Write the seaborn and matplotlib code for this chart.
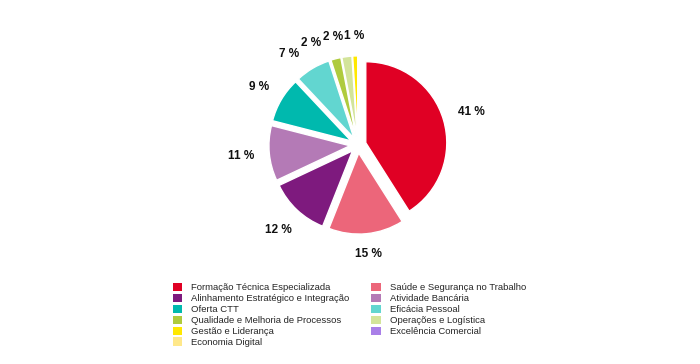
import matplotlib
matplotlib.use("Agg")
import matplotlib.pyplot as plt
import seaborn as sns
import numpy as np
from matplotlib.patches import Patch

sns.set_theme(style="white")
plt.rcParams['font.family'] = ['Liberation Sans', 'DejaVu Sans']

categories = [
    "Formação Técnica Especializada",
    "Saúde e Segurança no Trabalho",
    "Alinhamento Estratégico e Integração",
    "Atividade Bancária",
    "Oferta CTT",
    "Eficácia Pessoal",
    "Qualidade e Melhoria de Processos",
    "Operações e Logística",
    "Gestão e Liderança",
    "Excelência Comercial",
    "Economia Digital",
]
values = [41, 15, 12, 11, 9, 7, 2, 2, 1, 0, 0]
colors = ["#E00024", "#EC667A", "#7E1A7E", "#B47AB6", "#00B9AE", "#62D6D0",
          "#AFCB3D", "#D3E49A", "#FFE800", "#A97FE8", "#FFE88A"]
legend_order = [0, 2, 4, 6, 8, 10, 1, 3, 5, 7, 9]

fig = plt.figure(figsize=(7, 3.64), dpi=100)
W, H = 700, 364
R = 81.0           # pie radius in pixels
lim = 1.6
half = R * lim
cx, cy = 358, 364 - 145
ax = fig.add_axes([(cx - half) / W, (cy - half) / H, 2 * half / W, 2 * half / H])

labels = [f"{v} %" if v > 0 else "" for v in values]
wedges, texts = ax.pie(
    values, labels=labels, colors=colors, startangle=90, counterclock=False,
    explode=[0.1] * len(values), labeldistance=1.2,
    wedgeprops=dict(edgecolor="white", linewidth=1.0),
    textprops=dict(fontsize=8.5, fontweight="bold", color="#111111"),
)
ax.set_xlim(-lim, lim)
ax.set_ylim(-lim, lim)
ax.set_aspect("equal")
ax.axis("off")

# place labels outside, Excel-like, pushing crowded labels counter-clockwise
fig.canvas.draw()
renderer = fig.canvas.get_renderer()
D = 1.28
hpad, vpad = 1.0, 7.0
placed = []


def label_box(deg, w, h):
    a = np.deg2rad(deg)
    c, s = np.cos(a), np.sin(a)
    dist = D * R + abs(c) * w / 2 + abs(s) * h / 2
    x, y = dist * c, dist * s
    return x, y, (x - w / 2, y - h / 2, x + w / 2, y + h / 2)


def overlaps(b1, b2):
    return not (b1[2] + hpad <= b2[0] or b2[2] + hpad <= b1[0] or
                b1[3] + vpad <= b2[1] or b2[3] + vpad <= b1[1])


for w, t in reversed(list(zip(wedges, texts))):
    if not t.get_text():
        continue
    bb = t.get_window_extent(renderer)
    tw, th = bb.width, bb.height * 0.8
    deg = (w.theta1 + w.theta2) / 2
    x, y, box = label_box(deg, tw, th)
    while any(overlaps(box, p) for p in placed):
        deg += 0.5
        x, y, box = label_box(deg, tw, th)
    placed.append(box)
    t.set_ha("center")
    t.set_va("center")
    t.set_position((x / R, y / R))

handles = [Patch(facecolor=colors[i], edgecolor="none") for i in legend_order]
names = [categories[i] for i in legend_order]
fig.legend(handles, names, ncol=2, loc="upper left", bbox_to_anchor=(173 / W, 1 - 283 / H),
           frameon=False, fontsize=6.8, handlelength=1.0, handleheight=1.0,
           handletextpad=0.95, columnspacing=2.3, labelspacing=0.15,
           borderaxespad=0, borderpad=0)

fig.savefig("out.png", dpi=100, facecolor="white")
